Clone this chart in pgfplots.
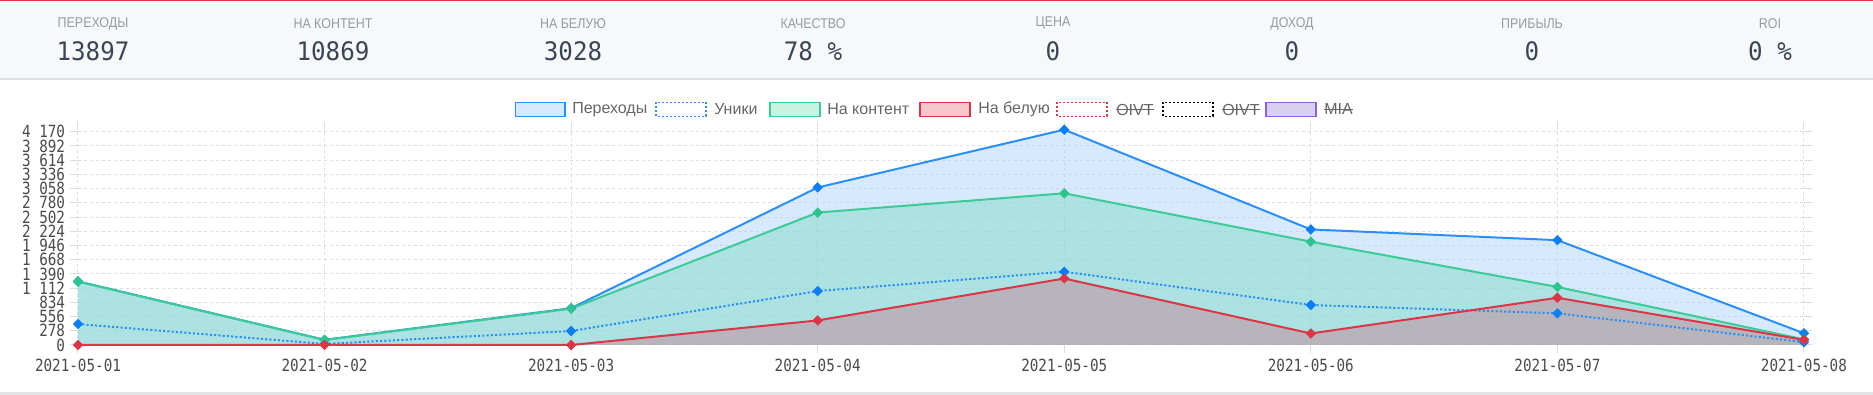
\documentclass[border=0pt]{standalone}
\usepackage{fontspec}
\setmainfont{Liberation Sans}
\newfontfamily\tickfont[FakeStretch=0.85]{DejaVu Sans Mono}
\newfontfamily\numfont[FakeStretch=0.95]{DejaVu Sans Mono}
\newfontfamily\capfont[FakeStretch=0.88]{Liberation Sans}
\usepackage{pgfplots}
\usepackage{pgfplotstable}
\pgfplotsset{compat=1.18}

\definecolor{hdrbg}{HTML}{F7F8FA}
\definecolor{hdrline}{HTML}{DEE0E3}
\definecolor{topred}{HTML}{E03A45}
\definecolor{botline}{HTML}{E2E3E5}
\definecolor{caplbl}{HTML}{969BA1}
\definecolor{numc}{HTML}{3A4656}
\definecolor{gridc}{HTML}{DDDDDD}
\definecolor{tickc}{HTML}{4A4A4A}
\definecolor{legc}{HTML}{666666}
\definecolor{bluel}{HTML}{2B8FF7}
\definecolor{bluem}{HTML}{0B7EF5}
\definecolor{greenl}{HTML}{3CCB96}
\definecolor{greenm}{HTML}{2EC48D}
\definecolor{redl}{HTML}{DC3545}
\definecolor{fillb}{RGB}{175,211,249}
\definecolor{fillg}{RGB}{131,219,200}
\definecolor{fillr}{RGB}{197,136,150}
\definecolor{legb}{HTML}{D6E8FC}
\definecolor{legg}{HTML}{C9F2E2}
\definecolor{legr}{HTML}{F5C6CB}
\definecolor{legm}{HTML}{D9D0F0}
\definecolor{purl}{HTML}{8B63D9}

\pgfplotstableread{
x per uniq cont bel
0 1245 410 1240 0
1 102 20 98 0
2 720 274 710 0
3 3080 1055 2590 480
4 4210 1433 2966 1300
5 2260 782 2020 225
6 2050 619 1135 923
7 230 55 110 100
}\datatable

\begin{document}
\begin{tikzpicture}[x=0.75pt,y=0.75pt]
\useasboundingbox (0,0) rectangle (1873,395);
% header
\fill[hdrbg] (0,316) rectangle (1873,395);
\fill[hdrline] (0,315) rectangle (1873,316.5);
\fill[topred] (0,393.5) rectangle (1873,395);
\fill[botline] (0,0) rectangle (1873,2.5);
\foreach \cx/\lab/\val in {93/ПЕРЕХОДЫ/13897, 333/НА КОНТЕНТ/10869, 573/НА БЕЛУЮ/3028, 813/КАЧЕСТВО/78 \%, 1053/ЦЕНА/0, 1292/ДОХОД/0, 1532/ПРИБЫЛЬ/0, 1770/ROI/0 \%}{
  \node[anchor=center, inner sep=0pt, text=caplbl, font=\capfont\fontsize{10.6}{12}\selectfont] at (\cx,371.5) {\lab};
  \node[anchor=center, inner sep=0pt, text=numc, font=\numfont\fontsize{19.1}{22}\selectfont] at (\cx,344) {\val};
}
% legend
\tikzset{lbox/.style={line width=1.1pt}, ltext/.style={anchor=west, inner sep=0pt, text=legc, font=\fontsize{12}{14}\selectfont}}
\draw[lbox, draw=bluel, fill=legb] (515.5,278.5) rectangle (565,292.5);
\node[ltext] at (572,285.5) {Переходы};
\draw[lbox, draw=bluel, fill=white, dash pattern=on 1.5pt off 1.5pt] (656,278.5) rectangle (706,292.5);
\node[ltext] at (714,285.5) {Уники};
\draw[lbox, draw=greenl, fill=legg] (770,278.5) rectangle (820,292.5);
\node[ltext] at (827,285.5) {На контент};
\draw[lbox, draw=redl, fill=legr] (920,278.5) rectangle (970,292.5);
\node[ltext] at (978,285.5) {На белую};
\draw[lbox, draw=redl, fill=white, dash pattern=on 1.5pt off 1.5pt] (1057,278.5) rectangle (1107,292.5);
\node[ltext] (t1) at (1116,285.5) {OIVT};
\draw[lbox, draw=black, fill=white, dash pattern=on 1.5pt off 1.5pt] (1163,278.5) rectangle (1213,292.5);
\node[ltext] (t2) at (1222,285.5) {OIVT};
\draw[lbox, draw=purl, fill=legm] (1266,278.5) rectangle (1316,292.5);
\node[ltext] (t3) at (1324,285.5) {MIA};
\foreach \t in {t1,t2,t3}{
  \draw[legc, line width=1pt] (\t.west) -- (\t.east);
}
\begin{axis}[
  at={(58.5pt,37.5pt)}, anchor=south west,
  scale only axis, width=1294.5pt, height=161.475pt,
  xmin=0, xmax=7, ymin=0, ymax=4210,
  clip=false,
  axis line style={draw=none},
  xtick={0,1,2,3,4,5,6,7},
  xticklabels={2021-05-01,2021-05-02,2021-05-03,2021-05-04,2021-05-05,2021-05-06,2021-05-07,2021-05-08},
  ytick={0,278,556,834,1112,1390,1668,1946,2224,2502,2780,3058,3336,3614,3892,4170},
  yticklabels={0,278,556,834,1 112,1 390,1 668,1 946,2 224,2 502,2 780,3 058,3 336,3 614,3 892,4 170},
  grid=major,
  major grid style={draw=gridc, line width=0.75pt, dash pattern=on 2.25pt off 2.25pt},
  tick align=outside, major tick length=6pt,
  tick style={draw=gridc, line width=0.75pt},
  ticklabel style={font=\tickfont\fontsize{12.6}{14}\selectfont, text=tickc},
  xticklabel style={anchor=north, inner sep=0pt, yshift=-4.5pt},
  yticklabel style={anchor=east, inner sep=0pt, xshift=-3.5pt},
  every axis plot/.append style={line width=1.5pt},
  mark size=2.5pt,
]
\addplot[draw=none, fill=fillb, fill opacity=0.5] table[x=x,y=per]{\datatable} \closedcycle;
\addplot[draw=none, fill=fillg, fill opacity=0.5] table[x=x,y=cont]{\datatable} \closedcycle;
\addplot[draw=none, fill=fillr, fill opacity=0.5] table[x=x,y=bel]{\datatable} \closedcycle;
\addplot[draw=bluel, mark=square*, mark options={rotate=45, fill=bluem, draw=bluem, line width=0.5pt}] table[x=x,y=per]{\datatable};
\addplot[draw=bluel, dash pattern=on 1.6pt off 1.6pt, mark=square*, mark options={solid, rotate=45, fill=bluem, draw=bluem, line width=0.5pt}] table[x=x,y=uniq]{\datatable};
\addplot[draw=greenl, mark=square*, mark options={rotate=45, fill=greenm, draw=greenm, line width=0.5pt}] table[x=x,y=cont]{\datatable};
\addplot[draw=redl, mark=square*, mark options={rotate=45, fill=redl, draw=redl, line width=0.5pt}] table[x=x,y=bel]{\datatable};
\end{axis}
\end{tikzpicture}
\end{document}
